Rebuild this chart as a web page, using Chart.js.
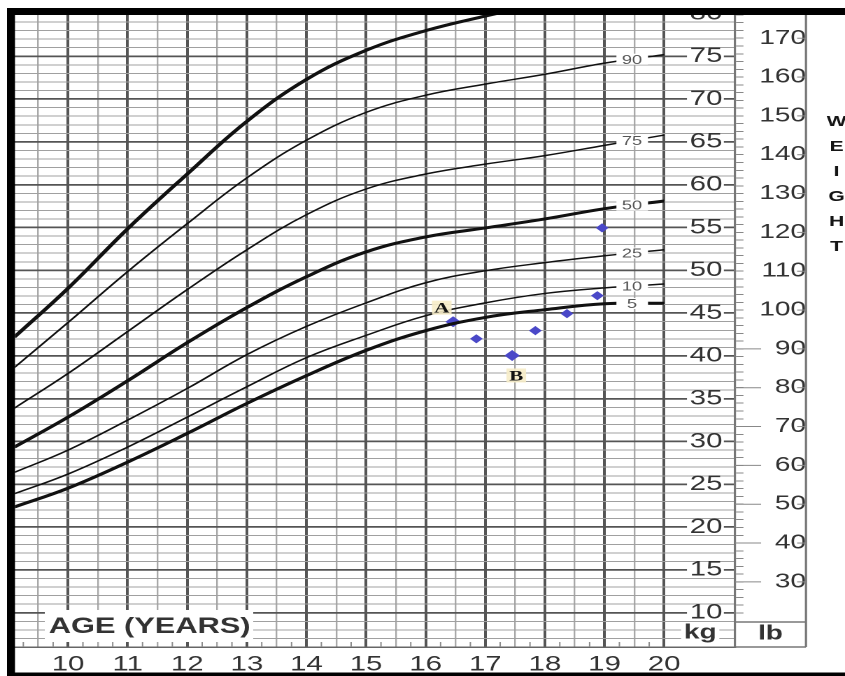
<!DOCTYPE html>
<html lang="en">
<head>
<meta charset="UTF-8">
<title>Weight-for-age chart</title>
<script src="https://cdn.jsdelivr.net/npm/chart.js"></script>
<style>
  html, body { margin: 0; padding: 0; background: #fff; }
</style>
</head>
<body>
<!-- the printed chart is stretched sideways, so the canvas is drawn narrow and widened by its style -->
<canvas id="growth" width="604" height="676" style="display:block;width:845px;height:676px"></canvas>
<script>
const FONT = '"Liberation Sans", Arial, Helvetica, sans-serif';
const KG_PER_LB = 0.45359237;

// percentile curves, kg at each age
const ages = [9.1, 10, 11, 12, 13, 14, 15, 16, 17, 18, 19, 20];
const p95 = [42.2, 47.9, 54.85, 61.25, 67.4, 72.3, 75.7, 78.0, 79.7, 81.2, 82.5, 83.7];
const p90 = [38.65, 43.9, 49.85, 55.45, 60.8, 65.2, 68.45, 70.45, 71.75, 72.9, 74.2, 75.2];
const p75 = [33.9, 37.95, 42.85, 47.75, 52.4, 56.5, 59.5, 61.25, 62.4, 63.4, 64.6, 65.8];
const p50 = [29.35, 32.85, 37.1, 41.55, 45.65, 49.25, 52.15, 53.9, 54.95, 56.0, 57.2, 58.1];
const p25 = [26.4, 29.0, 32.5, 36.2, 40.15, 43.45, 46.2, 48.55, 49.95, 50.9, 51.7, 52.4];
const p10 = [23.9, 26.2, 29.35, 32.85, 36.4, 39.8, 42.4, 44.7, 46.2, 47.3, 47.95, 48.4];
const p5  = [22.35, 24.55, 27.6, 30.95, 34.45, 37.7, 40.65, 42.95, 44.5, 45.4, 46.1, 46.15];
const percentiles = ['95', '90', '75', '50', '25', '10', '5'];
const curves = [p95, p90, p75, p50, p25, p10, p5];
const boldCurves = ['95', '50', '5'];

// the patient's measurements
const visitAges = [16.46, 16.85, 17.45, 17.84, 18.37, 18.88, 18.96];
const visitKg   = [44.0, 42.0, 40.05, 42.96, 44.94, 47.04, 54.96];

// the A / B notes on the chart
const noteText = ['A', 'B'];
const noteAges = [16.27, 17.52];
const noteKg   = [45.64, 37.72];

// axes
const ageTicks = [9.5, 10, 10.5, 11, 11.5, 12, 12.5, 13, 13.5, 14, 14.5, 15, 15.5,
                  16, 16.5, 17, 17.5, 18, 18.5, 19, 19.5, 20];
const ageLabels = [10, 11, 12, 13, 14, 15, 16, 17, 18, 19, 20];
const kgLabels = [10, 15, 20, 25, 30, 35, 40, 45, 50, 55, 60, 65, 70, 75, 80];
const lbLabels = [30, 40, 50, 60, 70, 80, 90, 100, 110, 120, 130, 140, 150, 160, 170];
const axisTitle = 'AGE (YEARS)';
const sideTitle = 'WEIGHT';

const kgTicks = [];
for (let v = 6; v <= 80; v++) kgTicks.push(v);
const lbTicks = [];
for (let v = 22; v <= 176; v += 2) lbTicks.push(v);

const LB_TICK = 6, LB_PAD = 3.5;
const LABEL_AGE = 19.46;

function kgAt(series, age) {
  for (let i = 1; i < ages.length; i++) {
    if (age <= ages[i]) {
      const t = (age - ages[i - 1]) / (ages[i] - ages[i - 1]);
      return series[i - 1] + t * (series[i] - series[i - 1]);
    }
  }
  return series[series.length - 1];
}

function line(ctx, x1, y1, x2, y2) {
  ctx.beginPath(); ctx.moveTo(x1, y1); ctx.lineTo(x2, y2); ctx.stroke();
}

const decor = {
  id: 'decor',
  beforeDatasetsDraw(chart) {
    const { ctx, chartArea: area, scales: { x, y, y2 } } = chart;
    ctx.save();

    // quarter-year marks on the bottom edge
    ctx.strokeStyle = '#8c8c8c';
    ctx.lineWidth = 1;
    for (let t = 9.25; t < 20; t += 0.5) {
      const px = x.getPixelForValue(t);
      line(ctx, px, area.bottom, px, area.bottom - 5);
    }

    // kg numbers in the column right of age 20
    ctx.textBaseline = 'middle';
    ctx.font = '21px ' + FONT;
    ctx.textAlign = 'right';
    const kgRight = area.right - 9;
    kgLabels.forEach(v => {
      const py = y.getPixelForValue(v), s = String(v), w = ctx.measureText(s).width;
      ctx.fillStyle = '#fff';
      ctx.fillRect(kgRight - w - 2, py - 7.5, w + 3, 15);
      ctx.fillStyle = '#333';
      ctx.fillText(s, kgRight, py);
    });
    ctx.font = 'bold 20px ' + FONT;
    ctx.textAlign = 'center';
    const w = ctx.measureText('kg').width;
    ctx.fillStyle = '#fff';
    ctx.fillRect(500.5 - w / 2 - 2, 623, w + 4, 22);
    ctx.fillStyle = '#333';
    ctx.fillText('kg', 500.5, 633);

    // lb column
    ctx.strokeStyle = '#777';
    ctx.lineWidth = 1.6;
    line(ctx, y2.right, area.top, y2.right, area.bottom);
    line(ctx, y2.left, 622, y2.right, 622);
    line(ctx, y2.left, area.bottom, y2.right, area.bottom);
    ctx.fillStyle = '#333';
    ctx.fillText('lb', (y2.left + y2.right) / 2, 634);
    ctx.font = '20px ' + FONT;
    const labelRight = y2.left + LB_TICK + LB_PAD + ctx.measureText('170').width;
    ctx.strokeStyle = '#888';
    ctx.lineWidth = 1;
    lbLabels.forEach(v => {
      const py = y2.getPixelForValue(v);
      line(ctx, labelRight + 1.5, py, y2.right, py);
      if (v < 100) line(ctx, y2.left, py, labelRight - ctx.measureText(String(v)).width - 2, py);
    });

    // age title over the bottom rows
    ctx.fillStyle = '#fff';
    ctx.fillRect(32, 610, 149, 32);
    ctx.font = 'bold 22px ' + FONT;
    ctx.fillStyle = '#333';
    ctx.fillText(axisTitle, 107, 627);
    ctx.restore();
  },
  afterDatasetsDraw(chart) {
    const { ctx, scales: { x, y } } = chart;
    ctx.save();
    ctx.textAlign = 'center';
    ctx.textBaseline = 'middle';

    // percentile names near the right end of each curve
    ctx.font = '13px ' + FONT;
    const gapL = x.getPixelForValue(19.2), gapR = x.getPixelForValue(19.73);
    percentiles.forEach((name, i) => {
      if (name === '95') return;
      const py = y.getPixelForValue(kgAt(curves[i], LABEL_AGE));
      ctx.fillStyle = '#fff';
      ctx.fillRect(gapL, py - 5.5, gapR - gapL, 11);
      ctx.fillStyle = '#555';
      ctx.fillText(name, x.getPixelForValue(LABEL_AGE), py + 1);
    });

    // A / B
    ctx.font = 'bold 15px "Liberation Serif", "Times New Roman", serif';
    noteText.forEach((t, i) => {
      const px = x.getPixelForValue(noteAges[i]), py = y.getPixelForValue(noteKg[i]);
      ctx.fillStyle = 'rgba(246, 236, 200, 0.9)';
      ctx.fillRect(px - 7, py - 7, 14, 14);
      ctx.fillStyle = '#111';
      ctx.fillText(t, px, py + 1);
    });
    ctx.restore();
  },
  afterDraw(chart) {
    const { ctx, width, height } = chart;
    ctx.save();
    ctx.fillStyle = '#fff';
    ctx.fillRect(0, 0, width, 8);
    ctx.fillRect(0, 0, 5, height);
    ctx.fillStyle = '#000';
    ctx.fillRect(5, 8, width - 5, 7);
    ctx.fillRect(5, 8, 5.7, height - 8);
    ctx.fillRect(5, 672.5, width - 5, 4);

    ctx.font = 'bold 15px ' + FONT;
    ctx.fillStyle = '#151515';
    ctx.textAlign = 'center';
    ctx.textBaseline = 'middle';
    sideTitle.split('').forEach((ch, i) => ctx.fillText(ch, 598, 122 + i * 25));
    ctx.restore();
  }
};

const curveSets = curves.map((series, i) => ({
  type: 'line',
  label: percentiles[i],
  data: ages.map((a, j) => ({ x: a, y: series[j] })),
  borderColor: '#111',
  borderWidth: boldCurves.includes(percentiles[i]) ? 3 : 1.5,
  pointRadius: 0,
  fill: false,
  tension: 0.4
}));

const visitSet = {
  type: 'scatter',
  label: 'visits',
  data: visitAges.map((a, i) => ({ x: a, y: visitKg[i] })),
  pointStyle: 'rectRot',
  pointRadius: c => (c.dataIndex === 0 || c.dataIndex === 2) ? 5.5 : 4.6,
  backgroundColor: '#4a48c8',
  borderWidth: 0
};

new Chart(document.getElementById('growth'), {
  type: 'line',
  data: { datasets: [...curveSets, visitSet] },
  plugins: [decor],
  options: {
    responsive: false,
    devicePixelRatio: 2,
    animation: false,
    events: [],
    layout: { padding: { left: 10.7, right: 27.9, top: 12, bottom: 0 } },
    plugins: { legend: { display: false }, tooltip: { enabled: false } },
    scales: {
      x: {
        type: 'linear',
        min: 9.11,
        max: 21.19,
        afterBuildTicks: s => { s.ticks = ageTicks.map(v => ({ value: v })); },
        afterFit: s => { s.height = 29; },
        grid: {
          drawTicks: false,
          color: c => ageLabels.includes(c.tick.value) ? '#555' : '#a8a8a8',
          lineWidth: c => ageLabels.includes(c.tick.value) ? 2 : 1.2
        },
        border: { display: true, color: '#666', width: 1.5 },
        ticks: {
          autoSkip: false, maxRotation: 0, minRotation: 0, padding: 5,
          color: '#333', font: { size: 21, family: FONT },
          callback: v => ageLabels.includes(v) ? String(v) : ''
        }
      },
      y: {
        type: 'linear',
        position: 'left',
        min: 6,
        max: 80,
        afterBuildTicks: s => { s.ticks = kgTicks.map(v => ({ value: v })); },
        afterFit: s => { s.width = 0; },
        grid: {
          drawTicks: false,
          color: c => c.tick.value % 5 === 0 ? '#555' : '#a0a0a0',
          lineWidth: c => c.tick.value % 5 === 0 ? 1.8 : 1
        },
        border: { display: false },
        ticks: { display: false }
      },
      y2: {
        type: 'linear',
        position: 'right',
        min: 6 / KG_PER_LB,
        max: 80 / KG_PER_LB,
        afterBuildTicks: s => { s.ticks = lbTicks.map(v => ({ value: v })); },
        afterFit: s => { s.width = 50.7; },
        grid: { drawOnChartArea: false, drawTicks: true, tickLength: LB_TICK, color: '#888', lineWidth: 1 },
        border: { display: true, color: '#777', width: 1.6 },
        ticks: {
          autoSkip: false, crossAlign: 'far', padding: LB_PAD,
          color: '#333', font: { size: 20, family: FONT, lineHeight: 1 },
          callback: v => lbLabels.includes(v) ? String(v) : ''
        }
      }
    }
  }
});
</script>
</body>
</html>
